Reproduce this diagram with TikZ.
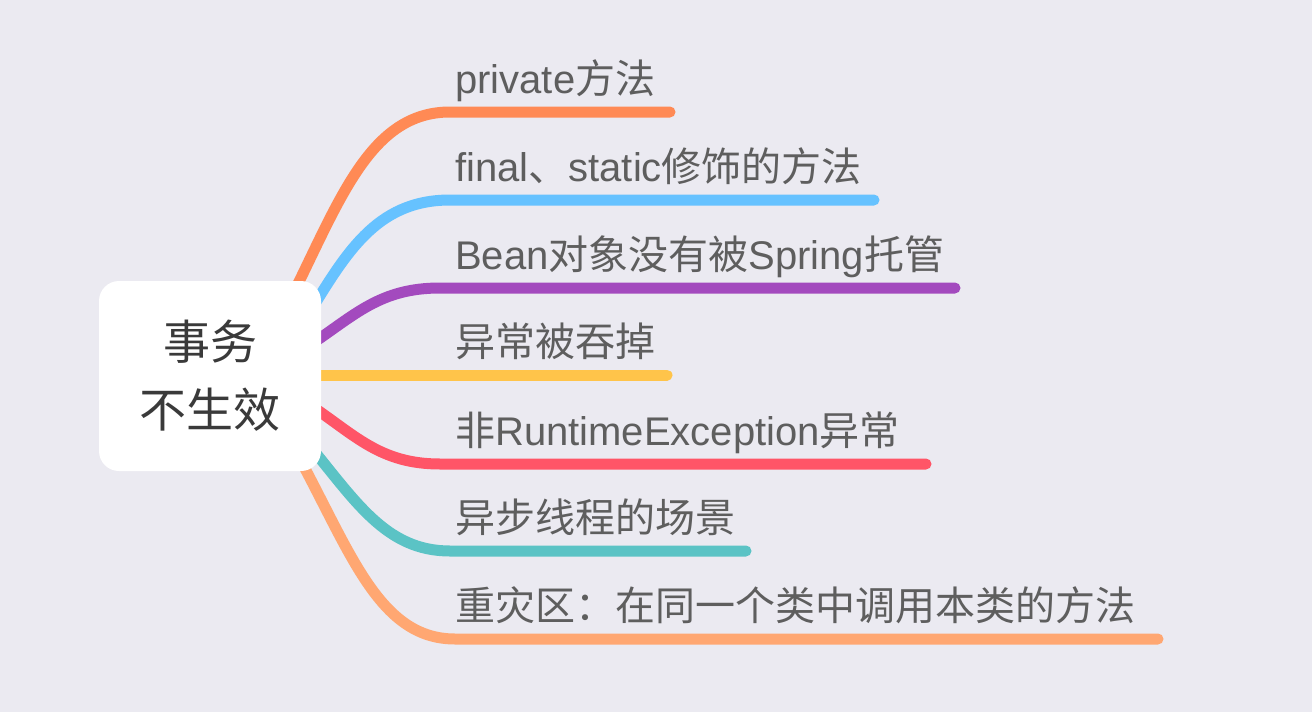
\documentclass[tikz,border=0pt]{standalone}
\usepackage{fontspec}
\setmainfont{Liberation Sans}
\newfontfamily\cjk{Noto Sans CJK SC}
\definecolor{bgc}{HTML}{EBEAF1}
\definecolor{txt}{HTML}{5E5E5E}
\definecolor{roottxt}{HTML}{3A3A3A}
\definecolor{cA}{HTML}{FF8A55}
\definecolor{cB}{HTML}{66C2FF}
\definecolor{cC}{HTML}{A34ABE}
\definecolor{cD}{HTML}{FFC44A}
\definecolor{cE}{HTML}{FF5567}
\definecolor{cF}{HTML}{5BC3C5}
\definecolor{cG}{HTML}{FFA772}
\tikzset{
  branch/.style={line width=11pt, line cap=round, line join=round},
  leaf/.style={anchor=base west, inner sep=0pt, text=txt, font=\fontsize{40}{48}\selectfont},
  rootbox/.style={fill=white, rounded corners=20pt, minimum width=222pt, minimum height=190pt, inner sep=0pt, text=roottxt, align=center, font=\cjk\fontsize{47}{68}\selectfont}
}
\begin{document}
\begin{tikzpicture}[x=1pt,y=-1pt]
\fill[bgc] (0,0) rectangle (1312,712);
\useasboundingbox (0,0) rectangle (1312,712);
% start points (hidden under root)
\coordinate (s1) at (290,300);
\coordinate (s2) at (305,320);
\coordinate (s3) at (310,345);
\coordinate (s4) at (300,375);
\coordinate (s5) at (310,405);
\coordinate (s6) at (305,440);
\coordinate (s7) at (295,450);
% knees
\coordinate (k1) at (450,112);
\coordinate (k2) at (450,200);
\coordinate (k3) at (440,288);
\coordinate (k4) at (440,375);
\coordinate (k5) at (440,464);
\coordinate (k6) at (450,551);
\coordinate (k7) at (455,639);
% ends
\coordinate (e1) at (670,112);
\coordinate (e2) at (874,200);
\coordinate (e3) at (955,288);
\coordinate (e4) at (667,375);
\coordinate (e5) at (926,464);
\coordinate (e6) at (746,551);
\coordinate (e7) at (1158,639);

\draw[branch, cA] (s1) .. controls (340,200) and (370,112) .. (k1) -- (e1);
\draw[branch, cB] (s2) .. controls (345,255) and (375,200) .. (k2) -- (e2);
\draw[branch, cC] (s3) .. controls (355,315) and (380,288) .. (k3) -- (e3);
\draw[branch, cD] (s4) -- (k4) -- (e4);
\draw[branch, cE] (s5) .. controls (355,435) and (380,464) .. (k5) -- (e5);
\draw[branch, cF] (s6) .. controls (355,500) and (385,551) .. (k6) -- (e6);
\draw[branch, cG] (s7) .. controls (350,550) and (378,639) .. (k7) -- (e7);

\node[rootbox] (root) at (210,376) {事务\\不生效};

\node[leaf] (t1) at (455,93) {private{\cjk 方法}};
\node[leaf] (t2) at (455,181) {final{\cjk 、}static{\cjk 修饰的方法}};
\node[leaf] (t3) at (455,269) {Bean{\cjk 对象没有被}Spring{\cjk 托管}};
\node[leaf] (t4) at (455,356) {{\cjk 异常被吞掉}};
\node[leaf] (t5) at (455,445) {{\cjk 非}RuntimeException{\cjk 异常}};
\node[leaf] (t6) at (455,532) {{\cjk 异步线程的场景}};
\node[leaf] (t7) at (455,620) {{\cjk 重灾区：在同一个类中调用本类的方法}};
\end{tikzpicture}
\end{document}
